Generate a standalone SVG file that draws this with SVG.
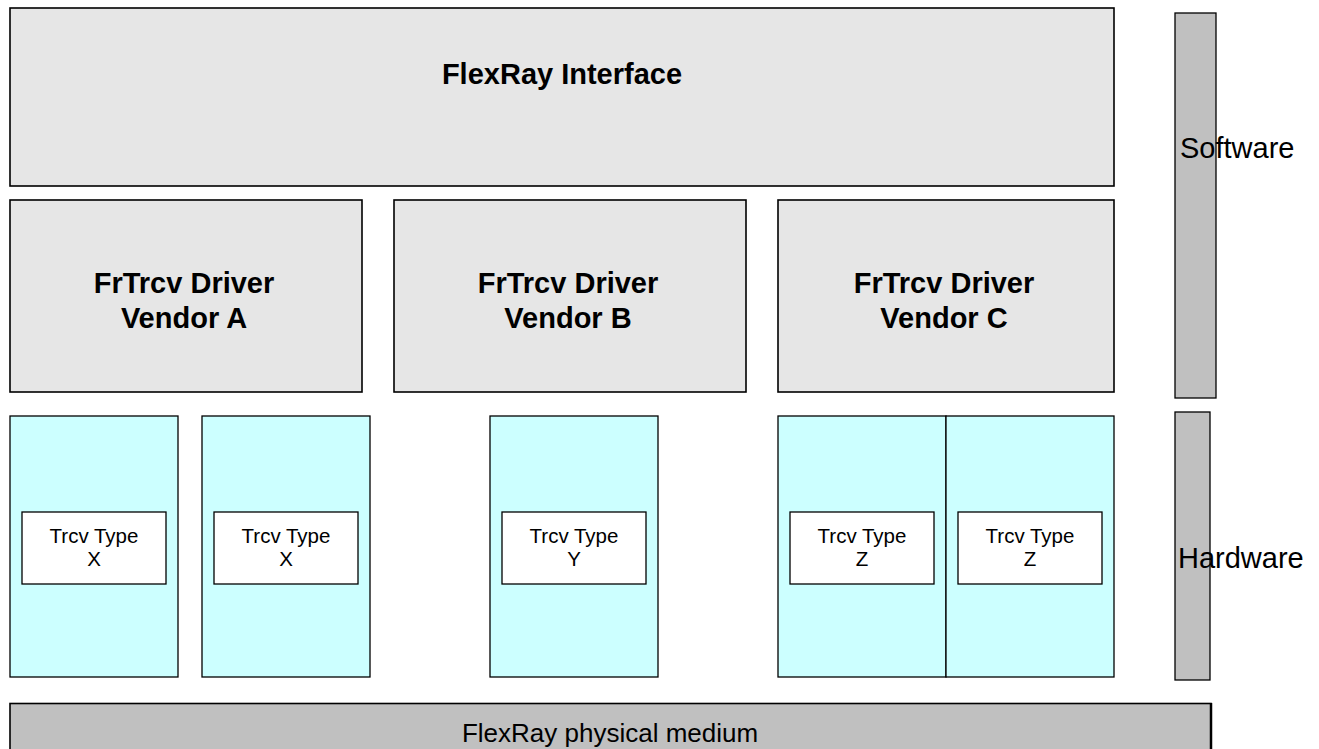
<svg xmlns="http://www.w3.org/2000/svg" width="1319" height="749" viewBox="0 0 1319 749">
<style>
.sw{fill:#e6e6e6;stroke:#000;stroke-width:1.6}
.hw{fill:#ccffff;stroke:#000;stroke-width:1.3}
.tr{fill:#fff;stroke:#000;stroke-width:1.3}
.bar{fill:#c0c0c0;stroke:#000;stroke-width:1.3}
.med{fill:#c0c0c0;stroke:#000;stroke-width:1.6}
.b{font-family:"Liberation Sans",Arial,sans-serif;font-weight:bold;font-size:29px;fill:#000;text-anchor:middle}
.r{font-family:"Liberation Sans",Arial,sans-serif;font-size:20.5px;fill:#000;text-anchor:middle}
.l{font-family:"Liberation Sans",Arial,sans-serif;font-size:29px;fill:#000}
</style>
<rect width="1319" height="749" fill="#fff"/>
<g id="flexray-interface">
<rect class="sw" x="10" y="8" width="1104" height="178"/>
<text class="b" x="562" y="83.5">FlexRay Interface</text>
</g>
<g id="driver-a">
<rect class="sw" x="10" y="200" width="352" height="192"/>
<text class="b" x="184" y="293">FrTrcv Driver</text>
<text class="b" x="184" y="328">Vendor A</text>
</g>
<g id="driver-b">
<rect class="sw" x="394" y="200" width="352" height="192"/>
<text class="b" x="568" y="293">FrTrcv Driver</text>
<text class="b" x="568" y="328">Vendor B</text>
</g>
<g id="driver-c">
<rect class="sw" x="778" y="200" width="336" height="192"/>
<text class="b" x="944" y="293">FrTrcv Driver</text>
<text class="b" x="944" y="328">Vendor C</text>
</g>
<g id="trcv-x1">
<rect class="hw" x="10" y="416" width="168" height="261"/>
<rect class="tr" x="22" y="512" width="144" height="72"/>
<text class="r" x="94" y="543">Trcv Type</text>
<text class="r" x="94" y="566">X</text>
</g>
<g id="trcv-x2">
<rect class="hw" x="202" y="416" width="168" height="261"/>
<rect class="tr" x="214" y="512" width="144" height="72"/>
<text class="r" x="286" y="543">Trcv Type</text>
<text class="r" x="286" y="566">X</text>
</g>
<g id="trcv-y">
<rect class="hw" x="490" y="416" width="168" height="261"/>
<rect class="tr" x="502" y="512" width="144" height="72"/>
<text class="r" x="574" y="543">Trcv Type</text>
<text class="r" x="574" y="566">Y</text>
</g>
<g id="trcv-z1">
<rect class="hw" x="778" y="416" width="168" height="261"/>
<rect class="tr" x="790" y="512" width="144" height="72"/>
<text class="r" x="862" y="543">Trcv Type</text>
<text class="r" x="862" y="566">Z</text>
</g>
<g id="trcv-z2">
<rect class="hw" x="946" y="416" width="168" height="261"/>
<rect class="tr" x="958" y="512" width="144" height="72"/>
<text class="r" x="1030" y="543">Trcv Type</text>
<text class="r" x="1030" y="566">Z</text>
</g>
<g id="software">
<rect class="bar" x="1175" y="13" width="41" height="385"/>
<text class="l" x="1180" y="158">Software</text>
</g>
<g id="hardware">
<rect class="bar" x="1175" y="412" width="35" height="268"/>
<text class="l" x="1178" y="568">Hardware</text>
</g>
<g id="medium">
<rect class="med" x="10" y="703.5" width="1201" height="60"/>
<line x1="1211" y1="703" x2="1211" y2="749" stroke="#000" stroke-width="2.5"/>
<text class="r" x="610" y="741.5" style="font-size:26px">FlexRay physical medium</text>
</g>
<g id="connectors"/>
</svg>
